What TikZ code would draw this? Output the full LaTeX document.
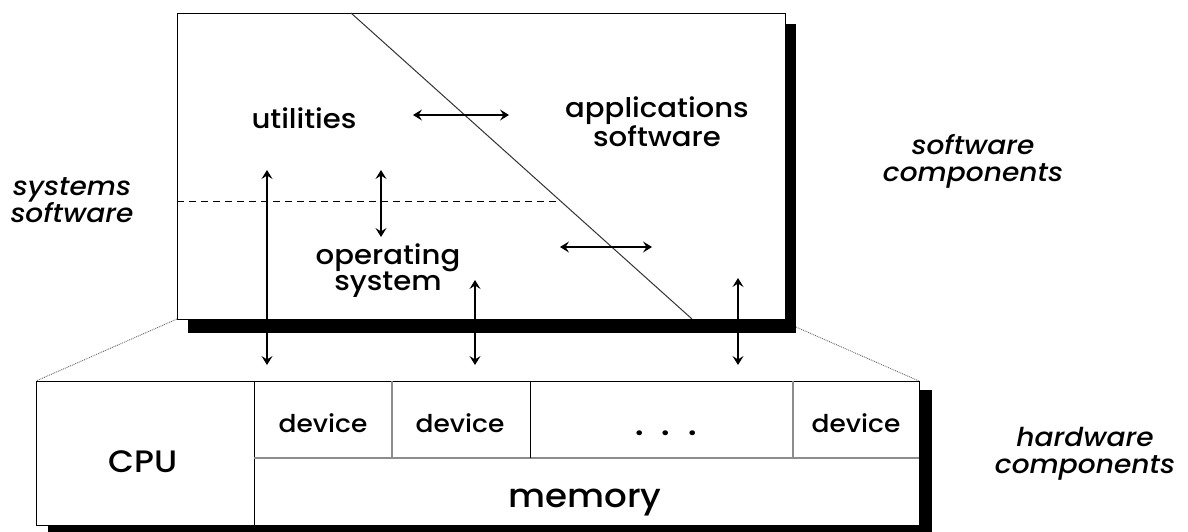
\documentclass[tikz,border=0pt]{standalone}
\usepackage{fontspec}
\setmainfont{Poppins}[UprightFont=*-Medium,ItalicFont=*-MediumItalic,BoldFont=*-SemiBold,FakeStretch=1.08]
\usetikzlibrary{arrows.meta}
\begin{document}
\begin{tikzpicture}[x=1pt,y=-1pt,
  boxline/.style={draw=black,line width=1pt,fill=white},
  shadowfill/.style={fill=black},
  inner/.style={draw=black!45,line width=1.1pt},
  innerdark/.style={draw=black,line width=1pt},
  zoomline/.style={draw=black!60,densely dotted,line width=0.9pt},
  lbl/.style={font=\fontsize{27}{26}\selectfont,align=center,inner sep=0pt,anchor=base},
  ital/.style={font=\fontsize{26}{27}\selectfont\itshape,align=center,inner sep=0pt,anchor=base},
  devlbl/.style={font=\fontsize{24.5}{25}\selectfont,inner sep=0pt,anchor=base},
  bigl/.style={font=\fontsize{31}{32}\selectfont,inner sep=0pt,anchor=base},
  arr/.style={{Stealth[length=9pt,width=11pt,inset=3.5pt]}-{Stealth[length=9pt,width=11pt,inset=3.5pt]},line width=1.3pt}
]
\useasboundingbox (0,0) rectangle (1188,531);

% ---------- software box ----------
\coordinate (swNW) at (177,13);
\coordinate (swSE) at (785,319);
\coordinate (swSW) at (177,319);
\fill[shadowfill] (188,24) rectangle (796,333);
\coordinate (swShSE) at (796,327);
\draw[boxline] (swNW) rectangle (swSE);
\coordinate (diagT) at (351,13);
\coordinate (diagB) at (692,319);
\draw[black!80,line width=1pt] (diagT) -- (diagB);
\coordinate (dashL) at (177,201);
\coordinate (dashR) at (560.5,201);
\draw[dashed,dash pattern=on 7pt off 5pt,line width=1pt] (dashL) -- (dashR);

% ---------- hardware box ----------
\fill[shadowfill] (48,390) rectangle (932,540);
\coordinate (hwNW) at (36,381);
\coordinate (hwNE) at (919,381);
\coordinate (hwSE) at (919,525);
\draw[boxline] (hwNW) rectangle (hwSE);
\draw[innerdark] (254,381) -- (254,525);
\draw[inner] (254,458) -- (919,458);
\draw[inner] (392,381) -- (392,458);
\draw[innerdark] (530,381) -- (530,458);
\draw[inner] (793,381) -- (793,458);

% zoom lines
\draw[zoomline] (swSW) -- (hwNW);
\draw[zoomline] (swShSE) -- (hwNE);

% ---------- labels ----------
\node[lbl] (util) at (304,128) {utilities};
\node[lbl] (apps) at (657,146) {applications\\software};
\node[lbl] (os) at (388,290) {operating\\system};
\node[ital] (sys) at (72,222) {systems\\software};
\node[ital] (swc) at (973,181) {software\\components};
\node[ital] (hwc) at (1085,473) {hardware\\components};
\node[bigl] (cpu) at (143,472) {CPU};
\node[devlbl] (d1) at (323,432) {device};
\node[devlbl] (d2) at (460,432) {device};
\node[font=\fontsize{30}{30}\selectfont\bfseries,inner sep=0pt,anchor=base] (dots) at (666,435) {.\hspace{18pt}.\hspace{18pt}.};
\node[devlbl] (d3) at (856,432) {device};
\node[font=\fontsize{33}{34}\selectfont,inner sep=0pt,anchor=base] (mem) at (585,507) {memory};

% ---------- arrows ----------
\coordinate (h1a) at (413,115); \coordinate (h1b) at (509,115);
\coordinate (h2a) at (560,247); \coordinate (h2b) at (652,247);
\coordinate (v1a) at (267,170); \coordinate (v1b) at (267,365);
\coordinate (v2a) at (381,170); \coordinate (v2b) at (381,237);
\coordinate (v3a) at (475,280); \coordinate (v3b) at (475,365);
\coordinate (v4a) at (738,278); \coordinate (v4b) at (738,365);
\draw[arr] (h1a) -- (h1b);
\draw[arr] (h2a) -- (h2b);
\draw[arr] (v1a) -- (v1b);
\draw[arr] (v2a) -- (v2b);
\draw[arr] (v3a) -- (v3b);
\draw[arr] (v4a) -- (v4b);
\end{tikzpicture}
\end{document}
